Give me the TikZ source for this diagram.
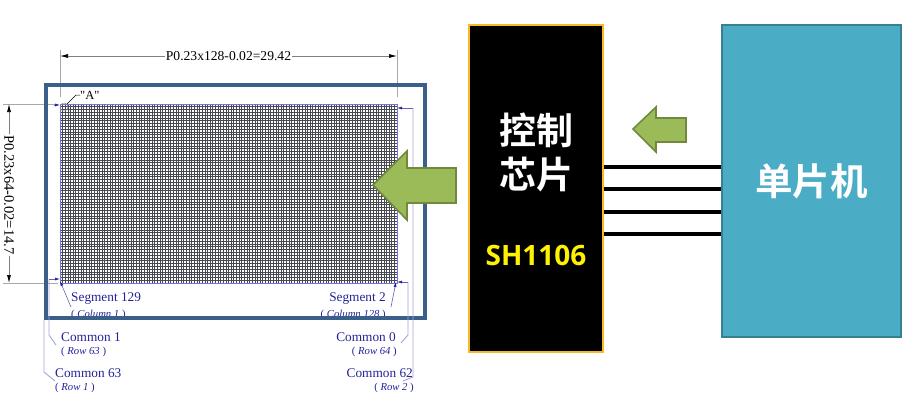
\documentclass[tikz,border=0pt]{standalone}
\usepackage{fontspec}
\setmainfont{Liberation Serif}
\newfontfamily\plainserif{Liberation Serif}
\newfontfamily\cjk{Noto Sans CJK SC}[BoldFont={Noto Sans CJK SC Bold}]
\newfontfamily\hsans{Open Sans}
\usetikzlibrary{arrows.meta}
\definecolor{panelblue}{HTML}{3A5F8A}
\definecolor{mcublue}{HTML}{4BACC6}
\definecolor{mcuedge}{HTML}{37808F}
\definecolor{chipgold}{HTML}{F9B82A}
\definecolor{arrowgreen}{HTML}{9BBB59}
\definecolor{arrowedge}{HTML}{71893F}
\definecolor{dimgray}{HTML}{A8A8A8}
\definecolor{labelblue}{HTML}{22229A}
\definecolor{leader}{HTML}{A4A4D8}
\definecolor{gridline}{HTML}{484850}
\tikzset{
  x=1pt,y=-1pt,
  dimline/.style={draw=dimgray,line width=0.8pt},
  dimarrow/.style={draw=gray,line width=0.7pt,-{Latex[length=8pt,width=4pt,black]}},
  dimtext/.style={font=\fontsize{13.6}{14}\selectfont,text=black,inner sep=1pt},
  seglabel/.style={font=\fontsize{13.3}{14}\selectfont,text=labelblue,inner sep=0pt},
  sublabel/.style={font=\fontsize{10.7}{12}\selectfont,text=labelblue,inner sep=0pt},
  leaderline/.style={draw=leader,line width=0.9pt},
  pointer/.style={draw=labelblue!70,line width=0.6pt,-{Latex[length=5pt,width=3pt,labelblue]}},
  flow/.style={draw=arrowedge,line width=1.6pt,fill=arrowgreen,line join=miter},
  bus/.style={draw=black,line width=4pt},
}
\begin{document}
\begin{tikzpicture}
\useasboundingbox (0,0) rectangle (914,410);
% pixel grid
\foreach \i in {0,...,128} \draw[gridline,line width=0.6pt] ({60+\i*2.6328},104) -- ({60+\i*2.6328},283);
\foreach \i in {0,...,64} \draw[gridline,line width=0.6pt] (60,{104+\i*2.7969}) -- (397,{104+\i*2.7969});
\draw[leader!70!blue,line width=0.5pt] (60,104) rectangle (397,283);
% dimension lines
\coordinate (xl) at (60,50); \coordinate (xlb) at (60,97);
\coordinate (xr) at (397,50); \coordinate (xrb) at (397,97);
\coordinate (yt) at (3,104); \coordinate (ytr) at (58,104);
\coordinate (yb) at (3,283); \coordinate (ybr) at (58,283);
\draw[dimline] (xl) -- (xlb);
\draw[dimline] (xr) -- (xrb);
\draw[dimline] (yt) -- (ytr);
\draw[dimline] (yb) -- (ybr);
\node[dimtext] (wlabel) at (228.5,56) {P0.23x128-0.02=29.42};
\node[dimtext,rotate=-90,font=\fontsize{14.5}{15}\selectfont] (hlabel) at (9,195) {P0.23x64-0.02=14.7};
\coordinate (wa) at (60,56); \coordinate (wb) at (397,56);
\coordinate (ha) at (9,104); \coordinate (hb) at (9,283);
\draw[dimarrow] (wlabel.west) -- (wa);
\draw[dimarrow] (wlabel.east) -- (wb);
\draw[dimarrow] (hlabel.west) -- (ha);
\draw[dimarrow] (hlabel.east) -- (hb);
% A marker
\node[circle,draw=dimgray!80!black,line width=0.5pt,minimum size=8pt,inner sep=0pt] (acircle) at (64,107) {};
\node[font=\plainserif\fontsize{12.5}{13}\selectfont,inner sep=0pt,anchor=west] (alabel) at (80,95) {"A"};
\coordinate (abend) at (76,95);
\draw[black,line width=0.5pt] (acircle) -- (abend) -- (alabel.west);
\draw[pointer] (54,105) -- (60,105);
% labels that run under the frame
\node[sublabel,anchor=west] (col1) at (71,315) {( \textit{Column 1} )};
\node[sublabel,anchor=east] (col128) at (386,315) {( \textit{Column 128} )};
% panel frame
\draw[panelblue,line width=4pt] (45.5,85) rectangle (425,318);
% bottom-left labels
\node[seglabel,anchor=west] (seg129) at (71,299) {Segment 129};
\node[seglabel,anchor=west] (com1) at (61,337) {Common 1};
\node[sublabel,anchor=west] (row63) at (61,352) {( \textit{Row 63} )};
\node[seglabel,anchor=west] (com63) at (55,373) {Common 63};
\node[sublabel,anchor=west] (row1) at (55,388) {( \textit{Row 1} )};
\coordinate (sa) at (71,307); \coordinate (sb) at (60,281);
\draw[pointer] (sa) -- (sb);
\coordinate (c1a) at (56,345); \coordinate (c1b) at (49,335);
\coordinate (c1c) at (49,279); \coordinate (c1d) at (60,279);
\draw[leaderline] (c1a) -- (c1b) -- (c1c);
\draw[pointer] (c1c) -- (c1d);
\coordinate (c63a) at (55,381); \coordinate (c63b) at (44,372);
\draw[leaderline] (c63a) -- (c63b) -- (44,320);
% bottom-right labels
\node[seglabel,anchor=east] (seg2) at (386,299) {Segment 2};
\node[seglabel,anchor=east] (com0) at (396,337) {Common 0};
\node[sublabel,anchor=east] (row64) at (397,352) {( \textit{Row 64} )};
\node[seglabel,anchor=east] (com62) at (413,373) {Common 62};
\node[sublabel,anchor=east] (row2) at (414,388) {( \textit{Row 2} )};
\coordinate (s2a) at (391,307); \coordinate (s2b) at (396,282);
\draw[pointer] (s2a) -- (s2b);
\coordinate (c0a) at (401,343); \coordinate (c0b) at (408,335);
\coordinate (c0c) at (408,282); \coordinate (c0d) at (397,282);
\draw[leaderline] (c0a) -- (c0b) -- (c0c);
\draw[pointer] (c0c) -- (c0d);
\coordinate (c62a) at (403,381); \coordinate (c62b) at (413,377);
\coordinate (c62c) at (413,108); \coordinate (c62d) at (397,108);
\draw[leaderline] (c62a) -- (c62b) -- (c62c);
\draw[pointer] (c62c) -- (c62d);
% bus
\node[draw=mcuedge,line width=1.6pt,fill=mcublue,minimum width=179pt,minimum height=312pt,inner sep=0pt,text=white,font=\cjk\bfseries\fontsize{37.5}{40}\selectfont] (mcu) at (811.5,181) {单片机};
\node[draw=chipgold,line width=2.6pt,fill=black,minimum width=134pt,minimum height=327pt,inner sep=0pt] (chip) at (536,188.5) {};
\node[text=white,font=\cjk\bfseries\fontsize{37}{44}\selectfont,align=center,inner sep=0pt] (chiptext) at (536,152) {控制\\芯片};
\node[text=yellow,font=\hsans\bfseries\fontsize{28}{30}\selectfont,inner sep=0pt] (chipname) at (536,255) {SH1106};
\foreach \y/\n in {167/a,189/b,212/c,234/d}{
  \coordinate (bus\n l) at (chip.east |- 0,\y);
  \coordinate (bus\n r) at (mcu.west |- 0,\y);
  \draw[bus] (bus\n l) -- (bus\n r);
}
% green arrows
\draw[flow] (456,168) -- (407,168) -- (407,151) -- (373,185) -- (407,220) -- (407,203) -- (456,203) -- cycle;
\draw[flow] (686,118) -- (656,118) -- (656,107) -- (633,129) -- (656,152) -- (656,142) -- (686,142) -- cycle;
\end{tikzpicture}
\end{document}
